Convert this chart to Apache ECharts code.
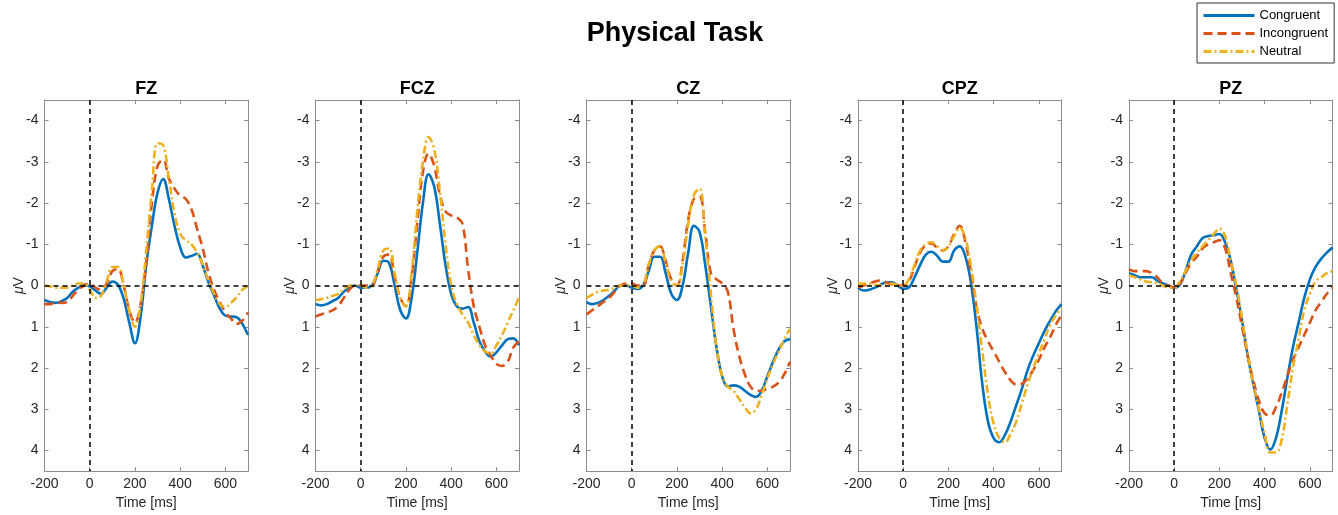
<!DOCTYPE html>
<html>
<head>
<meta charset="utf-8">
<title>Physical Task</title>
<script src="https://cdn.jsdelivr.net/npm/echarts@6/dist/echarts.min.js"></script>
<style>
  html, body { margin: 0; padding: 0; background: #fff; }
  #main { width: 1338px; height: 515px; }
</style>
</head>
<body>
<div id="main"></div>
<script>
// ERP waveforms, 5 electrodes x 3 conditions
var times = [-200,-175,-150,-125,-100,-75,-50,-25,0,25,50,75,100,125,150,175,200,225,250,275,300,325,350,375,400,425,450,475,500,525,550,575,600,625,650,675,700];
var channels = ['FZ', 'FCZ', 'CZ', 'CPZ', 'PZ'];
var conditions = ['Congruent', 'Incongruent', 'Neutral'];
var yTicks = [-4, -3, -2, -1, 0, 1, 2, 3, 4];

// FZ
var fzCongruent   = [0.35,0.4,0.42,0.38,0.3,0.15,0.05,-0.02, 0.02,0.12,0.2,0.05,-0.1,-0.02,0.32,0.9, 1.4,0.75,-0.5,-1.45,-2.25,-2.58,-2.1,-1.45, -0.93,-0.68,-0.72,-0.77,-0.48,-0.08,0.24,0.56, 0.73,0.75,0.77,0.93,1.2];
var fzIncongruent = [0.45,0.45,0.4,0.42,0.4,0.25,0.1,0.0, -0.05,0.05,0.1,-0.05,-0.35,-0.4,0.0,0.6, 0.9,0.45,-0.55,-2.0,-2.9,-3.05,-2.6,-2.35, -2.18,-2.1,-1.85,-1.37,-0.9,-0.32,0.1,0.4, 0.65,0.8,0.93,0.85,0.65];
var fzNeutral     = [0.0,0.02,0.05,0.05,0.05,0.0,-0.05,-0.05, 0.1,0.3,0.25,-0.1,-0.45,-0.45,0.0,0.6, 1.0,0.45,-0.85,-2.3,-3.45,-3.4,-2.6,-1.75, -1.25,-1.1,-1.0,-0.8,-0.5,-0.12,0.2,0.45, 0.52,0.42,0.28,0.1,0.02];
// FCZ
var fczCongruent   = [0.45,0.48,0.45,0.38,0.3,0.15,0.05,0.0, 0.05,0.05,0.0,-0.3,-0.6,-0.55,0.0,0.6, 0.8,0.3,-0.8,-2.0,-2.7,-2.4,-1.5,-0.5, 0.2,0.5,0.56,0.52,0.9,1.35,1.6,1.72, 1.62,1.45,1.3,1.28,1.45];
var fczIncongruent = [0.75,0.7,0.65,0.6,0.5,0.3,0.1,0.0, 0.0,0.0,0.0,-0.35,-0.7,-0.75,-0.2,0.3, 0.5,-0.2,-1.5,-2.75,-3.2,-2.9,-2.2,-1.8, -1.7,-1.65,-1.5,-0.4,0.5,1.0,1.45,1.7, 1.9,1.95,1.85,1.5,1.35];
var fczNeutral     = [0.35,0.33,0.3,0.25,0.2,0.1,0.0,0.0, 0.0,0.05,0.0,-0.4,-0.85,-0.9,-0.3,0.3, 0.5,-0.3,-1.8,-3.0,-3.6,-3.3,-2.3,-1.0, 0.0,0.45,0.7,0.9,1.2,1.45,1.6,1.65, 1.45,1.2,0.9,0.6,0.3];
// CZ
var czCongruent   = [0.4,0.45,0.42,0.35,0.25,0.12,0.0,0.0, 0.05,0.08,0.0,-0.35,-0.7,-0.7,-0.3,0.2, 0.35,0.0,-0.8,-1.45,-1.3,-0.5,0.5,1.5, 2.2,2.45,2.42,2.45,2.55,2.65,2.7,2.55, 2.2,1.85,1.55,1.35,1.3];
var czIncongruent = [0.7,0.6,0.5,0.4,0.3,0.15,0.0,-0.05, -0.05,0.0,0.0,-0.5,-0.85,-0.95,-0.6,-0.15, 0.0,-0.6,-1.6,-2.1,-2.15,-1.3,-0.3,-0.15, -0.05,0.15,1.05,1.7,2.15,2.45,2.55,2.55, 2.5,2.45,2.35,2.15,1.85];
var czNeutral     = [0.3,0.22,0.15,0.12,0.1,0.05,0.0,0.0, 0.0,0.05,0.0,-0.5,-0.85,-0.95,-0.55,-0.1, 0.0,-0.5,-1.5,-2.2,-2.35,-1.2,0.2,1.5, 2.2,2.45,2.55,2.75,2.95,3.1,3.0,2.65, 2.25,1.9,1.6,1.3,1.05];
// CPZ
var cpzCongruent   = [0.05,0.12,0.1,0.05,-0.02,-0.08,-0.08,0.0, 0.08,0.05,-0.2,-0.5,-0.75,-0.82,-0.72,-0.58, -0.58,-0.85,-0.95,-0.7,-0.05,1.05,2.4,3.3, 3.7,3.8,3.62,3.3,2.9,2.5,2.05,1.7, 1.4,1.1,0.85,0.62,0.45];
var cpzIncongruent = [0.05,0.0,-0.05,-0.1,-0.12,-0.08,-0.03,0.0, 0.0,-0.1,-0.45,-0.8,-0.98,-1.02,-0.92,-0.85, -0.95,-1.25,-1.45,-1.05,-0.3,0.55,1.05,1.35, 1.6,1.85,2.1,2.3,2.4,2.38,2.25,2.05, 1.8,1.5,1.25,0.95,0.72];
var cpzNeutral     = [-0.05,-0.05,-0.05,-0.02,0.0,-0.02,-0.05,-0.02, 0.0,-0.15,-0.5,-0.85,-1.0,-1.05,-0.95,-0.85, -0.95,-1.2,-1.4,-1.15,-0.45,0.5,1.6,2.65, 3.35,3.7,3.8,3.6,3.3,2.85,2.4,2.0, 1.65,1.3,0.95,0.72,0.55];
// PZ
var pzCongruent   = [-0.3,-0.25,-0.2,-0.2,-0.2,-0.12,-0.05,0.0, 0.05,-0.02,-0.35,-0.75,-0.95,-1.15,-1.2,-1.22, -1.25,-1.05,-0.6,0.1,0.85,1.7,2.4,3.05, 3.7,3.98,3.7,3.05,2.25,1.5,0.9,0.3, -0.15,-0.45,-0.65,-0.8,-0.92];
var pzIncongruent = [-0.4,-0.35,-0.35,-0.35,-0.3,-0.2,-0.05,0.0, 0.05,-0.05,-0.3,-0.55,-0.7,-0.9,-1.0,-1.05, -1.1,-0.9,-0.3,0.3,1.0,1.7,2.3,2.8, 3.1,3.15,2.95,2.6,2.2,1.8,1.5,1.2, 0.9,0.6,0.4,0.2,0.05];
var pzNeutral     = [-0.25,-0.2,-0.15,-0.1,-0.08,-0.05,0.0,0.05, 0.05,-0.1,-0.35,-0.6,-0.8,-0.95,-1.1,-1.25, -1.38,-1.2,-0.6,0.0,0.8,1.65,2.4,3.0, 3.6,4.05,4.05,3.75,2.9,2.0,1.3,0.6, 0.2,-0.1,-0.2,-0.3,-0.35];

var waves = [
    [fzCongruent, fzIncongruent, fzNeutral],
    [fczCongruent, fczIncongruent, fczNeutral],
    [czCongruent, czIncongruent, czNeutral],
    [cpzCongruent, cpzIncongruent, cpzNeutral],
    [pzCongruent, pzIncongruent, pzNeutral]
];

var colors = ['#0072BD', '#D95319', '#EDB120'];
var dashes = ['solid', [9, 5], [8, 3, 2, 3]];
var font = "'Liberation Sans', Helvetica, Arial, sans-serif";
var boxColor = '#8c8c8c';
var textColor = '#262626';

var gridLeft = [44.5, 315.5, 586.5, 858, 1129];
var gridWidth = 203.5;
var gridTop = 100;
var gridHeight = 372;

function pairUp(ys) {
    var res = [];
    for (var i = 0; i < times.length; i++) {
        res.push([times[i], ys[i]]);
    }
    return res;
}

var myChart = echarts.init(document.getElementById('main'), null, {renderer: 'canvas'});

var titles = [{
    text: 'Physical Task',
    left: 675,
    top: 20,
    padding: 0,
    textAlign: 'center',
    textStyle: {fontFamily: font, fontSize: 27, fontWeight: 'bold', color: '#000'}
}];
var grids = [], xAxes = [], yAxes = [], series = [];

for (var c = 0; c < channels.length; c++) {
    titles.push({
        text: channels[c],
        left: gridLeft[c] + gridWidth / 2,
        top: 80,
        padding: 0,
        textAlign: 'center',
        textStyle: {fontFamily: font, fontSize: 18, fontWeight: 'bold', color: '#000'}
    });
    grids.push({left: gridLeft[c], top: gridTop, width: gridWidth, height: gridHeight, containLabel: false});

    // bottom axis with labels, top axis only for the box + ticks
    xAxes.push({
        type: 'value', gridIndex: c, position: 'bottom',
        min: -200, max: 700, interval: 200,
        name: 'Time [ms]', nameLocation: 'middle', nameGap: 22,
        nameTextStyle: {fontFamily: font, fontSize: 14, color: textColor},
        axisLine: {show: true, onZero: false, lineStyle: {color: boxColor, width: 1}},
        axisTick: {show: true, inside: true, length: 4, lineStyle: {color: boxColor}},
        axisLabel: {fontFamily: font, fontSize: 14, color: textColor, margin: 6, showMaxLabel: false},
        splitLine: {show: false}
    });
    xAxes.push({
        type: 'value', gridIndex: c, position: 'top',
        min: -200, max: 700, interval: 200,
        axisLine: {show: true, onZero: false, lineStyle: {color: boxColor, width: 1}},
        axisTick: {show: true, inside: true, length: 4, lineStyle: {color: boxColor}},
        axisLabel: {show: false},
        splitLine: {show: false}
    });
    yAxes.push({
        type: 'value', gridIndex: c, position: 'left', inverse: true,
        min: -4.5, max: 4.5,
        name: '{mu|μ}V', nameLocation: 'middle', nameGap: 18, nameMoveOverlap: false,
        nameTextStyle: {
            fontFamily: font, fontSize: 14, color: textColor,
            rich: {mu: {fontFamily: font, fontSize: 14, fontStyle: 'italic', color: textColor}}
        },
        axisLine: {show: true, onZero: false, lineStyle: {color: boxColor, width: 1}},
        axisTick: {show: true, inside: true, length: 4, customValues: yTicks, lineStyle: {color: boxColor}},
        axisLabel: {fontFamily: font, fontSize: 14, color: textColor, margin: 6, customValues: yTicks},
        splitLine: {show: false}
    });
    yAxes.push({
        type: 'value', gridIndex: c, position: 'right', inverse: true,
        min: -4.5, max: 4.5,
        axisLine: {show: true, onZero: false, lineStyle: {color: boxColor, width: 1}},
        axisTick: {show: true, inside: true, length: 4, customValues: yTicks, lineStyle: {color: boxColor}},
        axisLabel: {show: false},
        splitLine: {show: false}
    });

    // zero reference lines
    series.push({
        name: 'ref' + c,
        type: 'line',
        xAxisIndex: c * 2, yAxisIndex: c * 2,
        data: [],
        silent: true,
        markLine: {
            silent: true,
            symbol: ['none', 'none'],
            label: {show: false},
            lineStyle: {color: '#000', type: [5, 4], width: 1.5},
            data: [{yAxis: 0}, {xAxis: 0}]
        }
    });

    for (var k = 0; k < conditions.length; k++) {
        series.push({
            name: conditions[k],
            type: 'line',
            xAxisIndex: c * 2, yAxisIndex: c * 2,
            data: pairUp(waves[c][k]),
            smooth: 0.4,
            symbol: 'none',
            showSymbol: false,
            lineStyle: {color: colors[k], width: 2.6, type: dashes[k]},
            itemStyle: {color: colors[k]}
        });
    }
}

var option = {
    animation: false,
    backgroundColor: '#fff',
    title: titles,
    legend: {
        data: conditions,
        orient: 'vertical',
        left: 1197,
        top: 3,
        padding: [6, 6, 5, 5],
        itemWidth: 51,
        itemHeight: 14,
        itemGap: 5,
        borderColor: '#333',
        borderWidth: 1,
        borderRadius: 0,
        backgroundColor: '#fff',
        itemStyle: {opacity: 0},
        lineStyle: {width: 3},
        textStyle: {fontFamily: font, fontSize: 13, color: '#000', padding: [0, 0, 0, 0]}
    },
    grid: grids,
    xAxis: xAxes,
    yAxis: yAxes,
    series: series
};
myChart.setOption(option);
</script>
</body>
</html>
